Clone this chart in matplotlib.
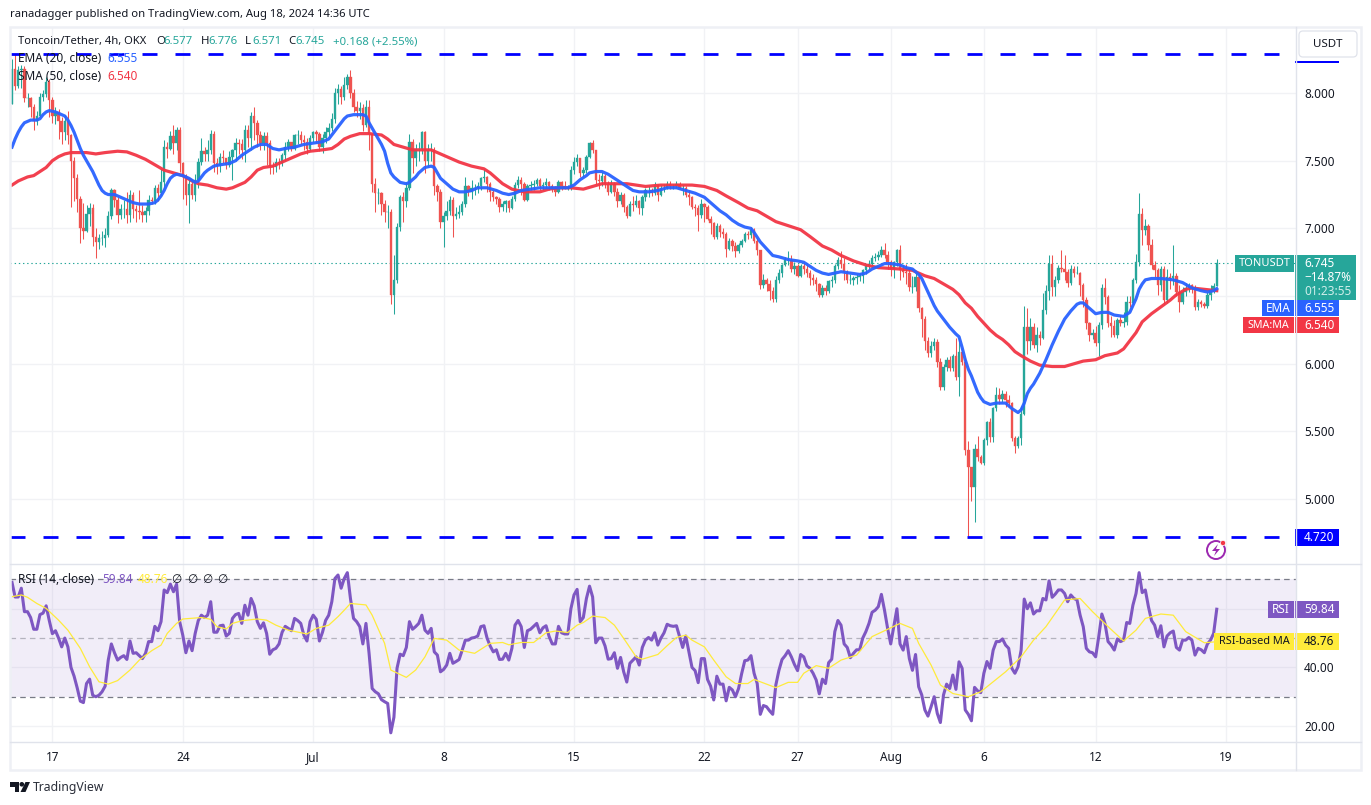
import matplotlib
matplotlib.use("Agg")
import matplotlib.pyplot as plt
from matplotlib.patches import Rectangle, FancyBboxPatch, Circle, Polygon

plt.rcParams['font.family'] = ['Noto Sans', 'DejaVu Sans']
plt.rcParams['lines.scale_dashes'] = False

first_open = 7.92
closes = [
 8.18,8.05,8.17,8.18,7.96,7.96,7.90,7.79,7.83,7.97,
 7.99,8.08,7.95,7.83,7.86,7.79,7.71,7.79,7.69,7.50,
 7.37,7.22,7.00,6.98,7.11,7.15,6.94,6.90,6.93,6.93,
 6.95,7.09,7.28,7.21,7.10,7.14,7.14,7.10,7.25,7.14,
 7.13,7.12,7.10,7.13,7.21,7.20,7.30,7.26,7.34,7.60,
 7.59,7.68,7.63,7.73,7.48,7.38,7.25,7.33,7.25,7.36,
 7.49,7.57,7.55,7.58,7.70,7.48,7.46,7.53,7.52,7.47,
 7.53,7.58,7.63,7.62,7.58,7.73,7.67,7.83,7.78,7.69,
 7.63,7.68,7.63,7.46,7.45,7.49,7.48,7.54,7.60,7.64,
 7.59,7.69,7.69,7.65,7.64,7.59,7.67,7.71,7.70,7.60,
 7.67,7.71,7.74,7.81,8.00,8.03,7.97,8.06,8.12,8.00,
 7.90,7.87,7.89,7.76,7.90,7.70,7.33,7.26,7.26,7.18,
 7.12,7.12,6.51,6.62,7.01,7.23,7.20,7.30,7.64,7.52,
 7.59,7.59,7.71,7.50,7.58,7.58,7.31,7.27,7.05,7.09,
 7.13,7.21,7.09,7.11,7.12,7.18,7.31,7.27,7.30,7.30,
 7.31,7.37,7.38,7.33,7.27,7.23,7.22,7.16,7.18,7.20,
 7.15,7.22,7.32,7.36,7.33,7.21,7.31,7.32,7.33,7.36,
 7.31,7.32,7.34,7.31,7.30,7.27,7.34,7.31,7.30,7.30,
 7.43,7.49,7.52,7.41,7.43,7.53,7.63,7.58,7.36,7.35,
 7.39,7.33,7.27,7.33,7.27,7.20,7.25,7.16,7.09,7.18,
 7.17,7.20,7.15,7.23,7.28,7.28,7.26,7.32,7.25,7.30,
 7.30,7.33,7.31,7.31,7.33,7.30,7.30,7.25,7.23,7.16,
 7.15,7.10,7.18,7.16,7.07,7.04,6.94,7.02,6.97,6.96,
 6.85,6.91,6.87,6.83,6.88,6.91,6.96,6.95,6.99,6.91,
 6.84,6.58,6.62,6.59,6.54,6.48,6.62,6.67,6.73,6.77,
 6.77,6.70,6.72,6.65,6.72,6.70,6.67,6.63,6.62,6.59,
 6.51,6.56,6.54,6.61,6.62,6.72,6.77,6.74,6.68,6.62,
 6.62,6.63,6.64,6.65,6.69,6.72,6.74,6.78,6.79,6.80,
 6.84,6.80,6.75,6.70,6.75,6.84,6.69,6.68,6.67,6.57,
 6.57,6.64,6.41,6.33,6.17,6.08,6.13,6.16,6.01,5.83,
 5.98,6.03,5.97,6.06,5.90,6.09,6.01,5.36,5.24,5.09,
 5.37,5.31,5.27,5.44,5.57,5.46,5.67,5.77,5.74,5.78,
 5.73,5.71,5.45,5.39,5.45,5.63,6.27,6.17,6.27,6.14,
 6.21,6.19,6.40,6.54,6.74,6.57,6.62,6.71,6.70,6.68,
 6.60,6.70,6.67,6.67,6.58,6.47,6.30,6.21,6.23,6.15,
 6.29,6.56,6.49,6.30,6.28,6.21,6.32,6.30,6.31,6.46,
 6.45,6.62,6.75,7.11,6.99,7.02,6.88,6.73,6.69,6.58,
 6.70,6.47,6.64,6.63,6.65,6.53,6.46,6.53,6.56,6.58,
 6.56,6.42,6.46,6.44,6.43,6.51,6.54,6.577,6.745]
highs = [
 8.25,8.29,8.20,8.21,8.20,8.00,7.97,7.92,7.87,8.00,
 8.02,8.12,8.10,7.97,7.90,7.88,7.82,7.84,7.87,7.70,
 7.53,7.40,7.24,7.19,7.17,7.19,7.18,7.00,6.96,6.98,
 7.00,7.13,7.30,7.29,7.23,7.18,7.21,7.27,7.28,7.27,
 7.17,7.28,7.17,7.16,7.25,7.23,7.32,7.33,7.44,7.65,
 7.64,7.72,7.76,7.75,7.75,7.49,7.40,7.36,7.36,7.40,
 7.52,7.67,7.60,7.65,7.73,7.72,7.52,7.56,7.58,7.52,
 7.57,7.59,7.67,7.66,7.66,7.76,7.76,7.86,7.90,7.80,
 7.72,7.71,7.71,7.65,7.49,7.52,7.52,7.56,7.64,7.66,
 7.64,7.70,7.73,7.72,7.69,7.67,7.69,7.72,7.73,7.71,
 7.70,7.75,7.78,7.85,8.04,8.07,8.05,8.12,8.14,8.17,
 8.03,7.94,7.93,7.92,7.95,7.95,7.68,7.37,7.30,7.27,
 7.21,7.17,7.14,6.80,7.04,7.25,7.27,7.34,7.70,7.66,
 7.62,7.64,7.72,7.72,7.62,7.63,7.60,7.33,7.29,7.12,
 7.20,7.24,7.23,7.16,7.17,7.20,7.38,7.32,7.36,7.33,
 7.34,7.38,7.44,7.39,7.34,7.28,7.24,7.23,7.20,7.21,
 7.21,7.24,7.34,7.39,7.38,7.34,7.33,7.35,7.36,7.37,
 7.37,7.34,7.37,7.35,7.33,7.31,7.36,7.35,7.35,7.32,
 7.46,7.53,7.55,7.52,7.45,7.54,7.64,7.65,7.58,7.40,
 7.42,7.40,7.35,7.36,7.34,7.30,7.27,7.26,7.17,7.20,
 7.24,7.25,7.21,7.25,7.30,7.31,7.30,7.34,7.33,7.32,
 7.33,7.35,7.35,7.33,7.35,7.34,7.32,7.31,7.28,7.24,
 7.18,7.17,7.22,7.19,7.17,7.09,7.05,7.04,7.03,7.00,
 6.97,6.93,6.92,6.90,6.89,6.92,6.97,6.98,7.01,7.00,
 6.93,6.84,6.66,6.63,6.62,6.57,6.65,6.70,6.74,6.79,
 6.83,6.80,6.75,6.74,6.74,6.75,6.74,6.69,6.66,6.64,
 6.60,6.58,6.58,6.62,6.65,6.74,6.79,6.83,6.78,6.69,
 6.66,6.65,6.66,6.67,6.70,6.74,6.77,6.80,6.82,6.83,
 6.87,6.89,6.83,6.77,6.76,6.85,6.88,6.73,6.74,6.70,
 6.65,6.67,6.66,6.42,6.35,6.20,6.17,6.19,6.18,6.04,
 6.00,6.05,6.06,6.07,6.19,6.19,6.12,6.04,5.43,5.24,
 5.41,5.47,5.33,5.45,5.58,5.60,5.68,5.83,5.82,5.81,
 5.80,5.77,5.72,5.47,5.47,5.69,6.43,6.41,6.34,6.30,
 6.27,6.24,6.52,6.58,6.80,6.80,6.65,6.73,6.84,6.80,
 6.70,6.73,6.72,6.72,6.68,6.60,6.49,6.31,6.26,6.28,
 6.31,6.59,6.63,6.51,6.35,6.32,6.34,6.36,6.38,6.50,
 6.50,6.63,6.81,7.26,7.15,7.07,7.03,6.92,6.76,6.71,
 6.72,6.72,6.70,6.67,6.88,6.67,6.58,6.57,6.60,6.60,
 6.59,6.58,6.48,6.47,6.46,6.53,6.58,6.60,6.776]
lows = [
 7.92,8.02,8.04,8.04,7.93,7.90,7.82,7.73,7.76,7.82,
 7.94,7.97,7.82,7.78,7.77,7.66,7.62,7.65,7.62,7.16,
 7.20,7.12,6.89,6.92,6.97,7.02,6.87,6.78,6.85,6.88,
 6.86,6.94,7.07,7.16,7.04,7.07,7.08,7.04,7.05,7.08,
 7.05,7.07,7.05,7.05,7.10,7.18,7.18,7.20,7.25,7.30,
 7.52,7.58,7.55,7.58,7.42,7.22,7.17,7.04,7.22,7.20,
 7.30,7.47,7.50,7.50,7.55,7.42,7.40,7.42,7.48,7.44,
 7.45,7.36,7.50,7.55,7.51,7.49,7.60,7.58,7.65,7.60,
 7.58,7.58,7.47,7.40,7.40,7.42,7.44,7.46,7.50,7.57,
 7.57,7.58,7.62,7.62,7.58,7.55,7.57,7.64,7.63,7.57,
 7.56,7.63,7.68,7.72,7.78,7.92,7.92,7.95,8.03,7.96,
 7.86,7.82,7.81,7.72,7.75,7.58,7.27,7.12,7.18,7.10,
 7.05,7.00,6.44,6.37,6.60,6.98,7.05,7.16,7.28,7.41,
 7.46,7.50,7.55,7.41,7.45,7.50,7.25,7.20,7.00,6.86,
 7.06,7.10,6.94,7.07,7.08,7.10,7.16,7.24,7.22,7.25,
 7.26,7.28,7.34,7.27,7.20,7.20,7.18,7.12,7.13,7.12,
 7.12,7.14,7.20,7.30,7.25,7.20,7.20,7.28,7.28,7.31,
 7.28,7.28,7.30,7.28,7.27,7.24,7.26,7.28,7.29,7.28,
 7.28,7.40,7.46,7.38,7.38,7.41,7.52,7.56,7.33,7.29,
 7.31,7.30,7.25,7.26,7.24,7.16,7.18,7.12,7.08,7.09,
 7.13,7.16,7.11,7.10,7.20,7.23,7.24,7.25,7.20,7.24,
 7.27,7.29,7.29,7.29,7.30,7.29,7.25,7.23,7.17,7.14,
 7.09,6.98,7.08,7.05,7.06,6.96,6.92,6.92,6.94,6.93,
 6.79,6.84,6.83,6.79,6.82,6.86,6.90,6.92,6.93,6.89,
 6.80,6.55,6.56,6.54,6.47,6.46,6.46,6.60,6.64,6.72,
 6.73,6.68,6.66,6.64,6.64,6.66,6.64,6.58,6.58,6.54,
 6.49,6.49,6.51,6.52,6.57,6.60,6.70,6.71,6.62,6.60,
 6.59,6.58,6.59,6.61,6.60,6.66,6.69,6.72,6.76,6.77,
 6.79,6.78,6.70,6.65,6.63,6.72,6.62,6.64,6.59,6.54,
 6.52,6.54,6.38,6.20,6.10,6.05,6.05,6.10,5.98,5.81,
 5.81,5.95,5.95,5.95,5.88,5.76,5.99,5.33,4.73,4.99,
 4.83,5.28,5.26,5.25,5.40,5.42,5.42,5.65,5.70,5.72,
 5.68,5.68,5.43,5.34,5.38,5.40,5.62,6.07,6.10,6.12,
 6.09,6.14,6.18,6.37,6.47,6.50,6.50,6.60,6.68,6.62,
 6.57,6.58,6.64,6.66,6.50,6.42,6.26,6.17,6.18,6.13,
 6.06,6.26,6.44,6.27,6.20,6.20,6.19,6.28,6.27,6.29,
 6.42,6.44,6.60,6.72,6.88,6.95,6.84,6.70,6.64,6.51,
 6.54,6.44,6.45,6.55,6.58,6.50,6.38,6.44,6.50,6.53,
 6.52,6.40,6.40,6.42,6.41,6.41,6.47,6.52,6.571]
rsi = [
 69,64,64,67,59,59,57,53,53,58,
 58.5,61,56,51.5,52.5,50,47,50,47,40,
 37,33,28.5,28,34.5,36,30.5,30,30.5,31.7,
 33.6,42.5,48,45,42.5,43.4,44,42.7,49,44.8,
 45,44,43,44.8,48.8,48.8,54,52.5,55.6,66.4,
 65.5,68.4,65.8,68.4,55.6,51,45,49,45.7,51.6,
 56,57.8,57,57.8,62.4,52,52,54.2,54.4,50.7,
 51.6,56.7,58,58.4,55,61.2,57.8,63.5,61,55.6,
 53.3,55.2,51.6,44.5,46,46.5,48,52,54,53.3,
 52.5,56.7,56,55,51,49,55.6,57.8,56.4,49,
 52,56,57.8,62.4,70.3,71.5,67,70.3,72.3,63.5,
 56.7,55.6,53.9,48,55,44.8,32.8,31.7,31,29,
 28.3,27.7,17.7,23,39.7,44.5,44,46.8,55.6,53,
 53.9,55,57.8,52.7,51.6,53.3,45.3,44.2,38.5,39.3,
 40.8,44.8,41.4,42,42.7,45.9,49.3,49.3,50,50.2,
 50.7,53.9,54.2,50,47.3,45.3,46,42.7,42.8,44.8,
 42.5,46.5,54.4,56,53.9,46.8,52.5,53,54,55,
 51.8,53.5,54.2,50.5,48,48,54,51.8,51.4,51.4,
 60,64.7,66.6,55.6,57,63.5,67.7,64,48.4,50,
 50,47.3,42.8,43,45,39.7,43.4,38.5,35,41.4,
 42.5,43.6,40.8,46.8,49.3,50.2,49.3,51.8,47.6,50,
 51.8,54.7,54.2,54,54.2,50.5,46.8,50.7,45.3,40,
 38.9,34.8,43,43,35.9,33.6,28.9,37,34.3,34.3,
 28.6,33.2,32.3,30,32.8,37.9,42.3,42.5,44,38,
 34.5,24,27,26.6,25.2,24,34,39,42.7,44,
 45.7,43.6,41,38.9,44.4,43.6,40.5,39.7,38,35.7,
 31,36,34.5,41.6,42.8,52.2,56,54.4,48,46.8,
 43.3,44.8,46,46,50,52.2,55,58.8,59.5,60.7,
 64.9,59.5,53.3,48,53.9,60,48,45.9,50.5,43,
 39,44.4,33.4,30.6,25.5,23.4,26.6,30,24.3,21.2,
 30.6,34.3,32.8,37.4,32.5,41.9,39.7,25.5,24,21.8,
 33.2,32,31.4,38,42,39.7,45.9,48.8,48.8,49.7,
 47.6,46.5,39.7,38,40.2,45.9,63.3,60,62,58.2,
 59.3,59.3,63.5,63,69.5,63.9,65,66.4,66.4,65.2,
 62.4,64.7,63.5,63,57.8,53.9,46.5,45.3,45,43.6,
 50.5,58.2,55,48.8,47.6,45.9,49.7,48.8,49.3,55.3,
 55,61.2,65.2,72.3,65.5,66.4,60.7,56,54.4,50.5,
 54.2,47,50.7,51.8,52.4,46.8,45.9,49.3,49.3,50.2,
 49.3,44.2,46.5,46,45,48,49.3,51.6,59.84]

rsi_ma_idx = [0,3,5,8,11,15,18,22,25,28,31,34,38,41,45,48,50,53,55,61,64,66,69,71,74,79,82,85,89,95,98,102,105,107,109,114,116,120,122,127,130,133,136,140,
 144,149,154,158,160,164,168,172,175,179,182,184,187,191,194,197,201,203,208,211,214,217,219,223,226,230,233,237,239,243,246,250,253,255,259,263,267,272,277,282,286,
 290,292,296,299,303,308,312,316,320,325,329,333,339,344,348,353,358,362,365,370,374,378,384,388]
rsi_ma = [64.1,64.7,63.9,61.8,60.1,56.1,52.7,46.5,40.2,35.1,34.3,35.5,39.1,42.5,45.7,47.6,51.6,55,56.5,57,56.4,53.9,53.1,55,55.9,56.5,56.1,54.4,52.7,51.4,53.3,54.4,57.3,59.5,61.8,61.3,57.8,48.2,39.1,36.6,39.1,43.6,49.9,49.3,
 45.9,44.8,48.2,48.5,47.7,48.5,48.5,51.8,52.4,51.9,54.4,55.3,57.5,57,54.4,49.9,43.6,42.8,44.4,47.4,50.2,51,49.3,47,42.5,36.8,34.5,34.5,35.9,34.3,33.1,34.9,34.9,38,40.6,39.7,42.5,44.2,50.5,53,55,
 53.3,48.2,40.8,34,31.1,30,31.7,35.1,38.5,43.6,49.3,53.9,63,63.5,59,53.9,49,52.7,56.7,58.2,57.8,52.2,48.4,48.76]

ema_points = [(0,7.60),(1,7.66),(2,7.71),(3,7.75),(4,7.78),(5,7.79),(6,7.80),(8,7.80),(9,7.81),(10,7.84),(11,7.86),(12,7.87),(14,7.86),(16,7.84),(17,7.83),(18,7.80),(19,7.76),(20,7.71),(21,7.65),(22,7.59),(23,7.54),(24,7.50),(25,7.46),(26,7.42),(27,7.37),(28,7.32),(29,7.28),(30,7.26),(31,7.25),(33,7.25),(35,7.23),(37,7.21),(39,7.19),(41,7.18),(44,7.18),(46,7.19),(47,7.21),(48,7.24),(49,7.28),(50,7.33),(51,7.37),(52,7.39),(53,7.40),(55,7.39),(57,7.37),(59,7.34),(60,7.35),(61,7.38),(62,7.41),(63,7.43),(65,7.46),(67,7.47),(70,7.48),(72,7.50),(74,7.54),(76,7.57),(78,7.60),(80,7.62),(82,7.62),(84,7.59),(86,7.58),(88,7.59),(91,7.60),(94,7.62),(97,7.63),(100,7.64),(102,7.66),(103,7.69),(104,7.72),(105,7.75),(106,7.78),(107,7.81),(108,7.83),(110,7.84),(113,7.84),(114,7.83),(115,7.78),(116,7.74),(117,7.70),(118,7.66),(119,7.62),(120,7.57),(121,7.48),(122,7.41),(123,7.38),(124,7.36),(125,7.34),(127,7.33),(128,7.34),(130,7.38),(131,7.41),(132,7.43),(133,7.45),(135,7.46),(136,7.45),(137,7.41),(138,7.37),(140,7.33),(142,7.29),(144,7.27),
 (146,7.27),(148,7.28),(150,7.30),(153,7.30),(156,7.28),(158,7.26),(160,7.25),(162,7.26),(164,7.28),(167,7.29),(170,7.30),(175,7.30),(179,7.30),(181,7.32),(183,7.36),(185,7.39),(186,7.41),(188,7.42),(190,7.42),(192,7.40),(194,7.37),(196,7.34),(198,7.31),(200,7.28),(202,7.27),(205,7.27),(208,7.28),(211,7.30),(214,7.30),(217,7.28),(220,7.26),(223,7.23),(225,7.19),(228,7.13),(230,7.10),(232,7.06),(234,7.03),(236,7.01),(238,7.00),(239,6.97),(241,6.90),(243,6.85),(245,6.80),(247,6.79),(250,6.77),(253,6.76),(255,6.75),(257,6.72),(259,6.69),(261,6.67),(263,6.66),(265,6.67),(267,6.68),(270,6.67),(273,6.66),(275,6.67),(277,6.70),(279,6.72),(281,6.74),(283,6.74),(286,6.73),(288,6.71),(290,6.70),(291,6.68),(292,6.66),(293,6.63),(294,6.58),(295,6.53),(296,6.48),(297,6.43),(298,6.39),(299,6.36),(300,6.33),(302,6.27),(304,6.22),(305,6.20),(306,6.12),(307,6.03),(308,5.96),(309,5.91),(310,5.85),(311,5.79),(312,5.75),(313,5.72),(315,5.70),(317,5.71),(320,5.71),(322,5.67),(324,5.64),(325,5.66),(326,5.71),(327,5.78),(328,5.82),(329,5.85),(331,5.93),(333,6.03),(335,6.14),(337,6.24),(339,6.33),(341,6.39),(343,6.44),(344,6.45),(345,6.45),(347,6.41),(349,6.37),(351,6.38),(353,6.38),(355,6.36),(358,6.35),(360,6.38),(361,6.43),(362,6.48),(363,6.55),(364,6.59),(365,6.62),(367,6.63),(370,6.63),(374,6.62),(377,6.60),(380,6.56),(383,6.54),(385,6.53),(387,6.54),(388,6.555)]

sma_points = [(0,7.32),(2,7.35),(5,7.38),(7,7.39),(9,7.42),(11,7.45),(13,7.50),(15,7.53),(17,7.55),(19,7.56),(24,7.56),(27,7.55),(30,7.56),(34,7.57),(37,7.565),(40,7.54),(43,7.51),(46,7.47),(49,7.43),(52,7.41),(55,7.39),(58,7.35),(60,7.33),(63,7.32),(66,7.30),(69,7.29),(71,7.30),(73,7.32),(75,7.34),(77,7.38),(79,7.43),(81,7.45),(84,7.46),(87,7.49),(90,7.52),(93,7.55),(96,7.57),(100,7.58),(103,7.59),(105,7.62),(107,7.66),(109,7.68),(112,7.70),(115,7.70),(119,7.69),(121,7.66),(123,7.62),(126,7.60),(129,7.58),(135,7.58),(138,7.55),(141,7.52),(144,7.49),(148,7.46),(152,7.44),(154,7.41),(156,7.37),(158,7.33),(161,7.29),(165,7.27),(170,7.27),(173,7.29),(176,7.30),(180,7.30),(184,7.29),(187,7.31),(190,7.33),(194,7.33),(198,7.33),(204,7.31),(209,7.32),(213,7.32),(219,7.32),(223,7.31),(227,7.28),(230,7.24),(234,7.19),(237,7.15),(240,7.13),(243,7.09),(246,7.05),(250,7.02),(254,6.99),(257,6.94),(261,6.87),(264,6.84),(267,6.80),(271,6.76),(275,6.73),(279,6.71),(286,6.70),(290,6.69),(294,6.65),(297,6.63),(300,6.59),(303,6.55),(305,6.51),(307,6.45),(309,6.41),(311,6.35),(313,6.30),(315,6.25),(317,6.21),(319,6.18),(321,6.14),(323,6.09),(325,6.06),(328,6.02),(331,5.99),(335,5.98),(339,5.98),(342,6.00),(345,6.02),(349,6.03),(352,6.06),(356,6.08),(358,6.11),(360,6.17),(362,6.23),(364,6.31),(367,6.37),(370,6.42),(373,6.47),(375,6.51),(378,6.55),(380,6.56),(384,6.55),(388,6.54)]

date_idx = [13,55,97,139,181,223,253,283,313,349,391]
date_labels = ['17','24','Jul','8','15','22','27','Aug','6','12','19']
price_ticks = [8.0,7.5,7.0,6.5,6.0,5.5,5.0]
price_labels = ['8.000','7.500','7.000','','6.000','5.500','5.000']
rsi_ticks = [60,40,20]
rsi_labels = ['','40.00','20.00']
resistance = 8.288
support = 4.72
last_price = 6.745

W, H = 1371, 805
GREEN, RED = '#26a69a', '#ef5350'
BLUE, SMAR = '#2962ff', '#f23645'
PURPLE, YEL = '#7e57c2', '#ffeb3b'
INK = '#131722'
GRID = '#f1f2f5'
EDGE = '#e0e3eb'

fig = plt.figure(figsize=(W/100, H/100), dpi=100, facecolor='white')

def axes_px(x0, y0, x1, y1):
    return fig.add_axes([x0/W, 1-y1/H, (x1-x0)/W, (y1-y0)/H])

X0, X1 = 10, 1296
xlim = ((X0-12)/3.105, (X1-12)/3.105)
ax = axes_px(X0, 28, X1, 563.5)
ax2 = axes_px(X0, 565, X1, 742)
ax.set_xlim(xlim); ax2.set_xlim(xlim)
ax.set_ylim(8-(563.5-93)/135.4, 8-(28-93)/135.4)
ax2.set_ylim(40-(742-667.4)/2.933, 40-(565-667.4)/2.933)

for a in (ax, ax2):
    for s in a.spines.values():
        s.set_visible(False)
    a.set_xticks(date_idx)
    a.grid(True, color=GRID, lw=1.0)
    a.set_axisbelow(True)
    a.yaxis.tick_right()
    a.tick_params(length=0, labelsize=8.5, labelcolor=INK, pad=5.8)
ax.set_yticks(price_ticks); ax.set_yticklabels(price_labels)
ax2.set_yticks(rsi_ticks); ax2.set_yticklabels(rsi_labels)
ax.tick_params(labelbottom=False)
ax2.set_xticklabels(date_labels)
ax2.tick_params(axis='x', pad=6.5)

opens = [first_open] + closes[:-1]
xs = list(range(len(closes)))
cols = [GREEN if c >= o else RED for o, c in zip(opens, closes)]
ax.vlines(xs, lows, highs, colors=cols, lw=0.75, zorder=2)
ax.bar(xs, [abs(c-o) for o, c in zip(opens, closes)],
       bottom=[min(o, c) for o, c in zip(opens, closes)],
       width=0.78, color=cols, edgecolor=cols, linewidth=0.25, zorder=3)
ax.plot(*zip(*sma_points), color=SMAR, lw=2.3, alpha=0.95, zorder=4, solid_joinstyle='round')
ax.plot(*zip(*ema_points), color=BLUE, lw=2.3, alpha=0.95, zorder=5, solid_joinstyle='round')
ax.axhline(last_price, color=GREEN, lw=0.8, dashes=(1, 2), zorder=1)
for lvl in (resistance, support):
    ax.axhline(lvl, color='#0000ff', lw=2.0, dashes=(10.8, 12.96), dash_capstyle='butt', zorder=6)

ax2.axhspan(30, 70, color=PURPLE, alpha=0.1, lw=0)
ax2.axhline(70, color='#787b86', lw=0.9, dashes=(4, 3))
ax2.axhline(30, color='#787b86', lw=0.9, dashes=(4, 3))
ax2.axhline(50, color='#787b86', lw=0.9, dashes=(4, 3), alpha=0.5)
ax2.plot(xs, rsi, color=PURPLE, lw=2.2, zorder=4)
ax2.plot(rsi_ma_idx, rsi_ma, color=YEL, lw=0.9, zorder=5)

# overlay in pixel coordinates for chrome and labels
ov = fig.add_axes([0, 0, 1, 1], facecolor='none')
ov.set_xlim(0, W); ov.set_ylim(H, 0); ov.axis('off')
ov.add_patch(Rectangle((9.5, 27), 1351, 743, fill=False, ec='#eef0f5', lw=1.8))
ov.plot([X1, X1], [27, 770], color=EDGE, lw=1.0)
ov.plot([X0, 1361], [564, 564], color=EDGE, lw=1.0)
ov.plot([X0, 1361], [742, 742], color=EDGE, lw=1.0)

def t(x, y, s, color=INK, size=8.5, **kw):
    kw.setdefault('va', 'center')
    return ov.text(x, y, s, color=color, fontsize=size, **kw)

def box(x0, y0, x1, y1, color):
    ov.add_patch(Rectangle((x0, y0), x1-x0, y1-y0, fc=color, ec='none'))

t(10, 15, 'ranadagger published on TradingView.com, Aug 18, 2024 14:36 UTC', size=8.1)
t(18, 41.5, 'Toncoin/Tether, 4h, OKX', size=8.05)
for x, lab, val in [(156, 'O', '6.577'), (201, 'H', '6.776'), (245, 'L', '6.571'), (288, 'C', '6.745')]:
    t(x, 41.5, lab, size=8.2)
    t(x+7.5, 41.5, val, color=GREEN, size=8.2)
t(333, 41.5, '+0.168 (+2.55%)', color=GREEN, size=8.2)
t(18, 59, 'EMA (20, close)', size=8.5)
t(107, 59, '6.555', color=BLUE, size=8.5)
t(18, 76, 'SMA (50, close)', size=8.5)
t(107, 76, '6.540', color=SMAR, size=8.5)
t(18, 579, 'RSI (14, close)', size=8.5)
t(102, 579, '59.84', color=PURPLE, size=8.5)
t(138, 579, '48.76', color=YEL, size=8.5)
for x in (176, 192, 207, 222):
    t(x, 579, '∅', size=8.5, ha='center')

# bottom edge of the 8.28 price tag, the rest of it sits under the USDT button
box(1295, 61, 1339, 63, '#0000ff')
ov.add_patch(FancyBboxPatch((1299, 31), 58, 26, boxstyle='round,pad=0,rounding_size=4', fc='white', ec=EDGE, lw=0.9))
t(1328, 44.5, 'USDT', size=8.3, ha='center')

box(1235, 255, 1294, 272, GREEN)
t(1264.5, 263.5, 'TONUSDT', color='white', ha='center', size=8.0)
box(1295, 255, 1356, 300, GREEN)
t(1304, 263.5, '6.745', color='white')
t(1304, 277.5, '−14.87%', color='white')
t(1304, 291.5, '01:23:55', color='#cfeeea')
box(1262, 300, 1294, 316, BLUE)
t(1278, 308, 'EMA', color='white', ha='center')
box(1295, 300, 1339, 316, BLUE)
t(1304, 308, '6.555', color='white')
box(1243, 317, 1294, 333, SMAR)
t(1268.5, 325, 'SMA:MA', color='white', ha='center', size=7.7)
box(1295, 317, 1339, 333, SMAR)
t(1304, 325, '6.540', color='white')
box(1295, 529, 1339, 546, '#0000ff')
t(1304, 537.5, '4.720', color='white')
box(1268, 601, 1294, 618, PURPLE)
t(1281, 609.5, 'RSI', color='white', ha='center')
box(1295, 601, 1339, 618, PURPLE)
t(1304, 609.5, '59.84', color='white')
box(1214, 633, 1294, 650, YEL)
t(1254, 641.5, 'RSI-based MA', ha='center', size=7.9)
box(1295, 633, 1339, 650, YEL)
t(1304, 641.5, '48.76')

# alert icon
ov.add_patch(Circle((1216, 550), 9, fill=False, ec='#9c27b0', lw=1.4))
ov.add_patch(Polygon([(1218, 544), (1212, 551), (1216, 551), (1214, 556), (1220, 549), (1216, 549)], fc='#9c27b0', ec='none'))
ov.add_patch(Circle((1223, 543), 2.6, fc=SMAR, ec='white', lw=0.5))

# TradingView logo
ov.add_patch(Polygon([(10, 782), (19, 782), (19, 792), (14.5, 792), (14.5, 786.5), (10, 786.5)], fc=INK, ec='none'))
ov.add_patch(Circle((21.8, 784.3), 2.3, fc=INK, ec='none'))
ov.add_patch(Polygon([(25.5, 782), (30, 782), (25.5, 792), (20.5, 792)], fc=INK, ec='none'))
t(33, 787.5, 'TradingView', size=8.8, color='#2a2e39')

fig.savefig('out.png', dpi=100, facecolor='white')
assert len(closes) == len(highs) == len(lows) == len(rsi) == 389
